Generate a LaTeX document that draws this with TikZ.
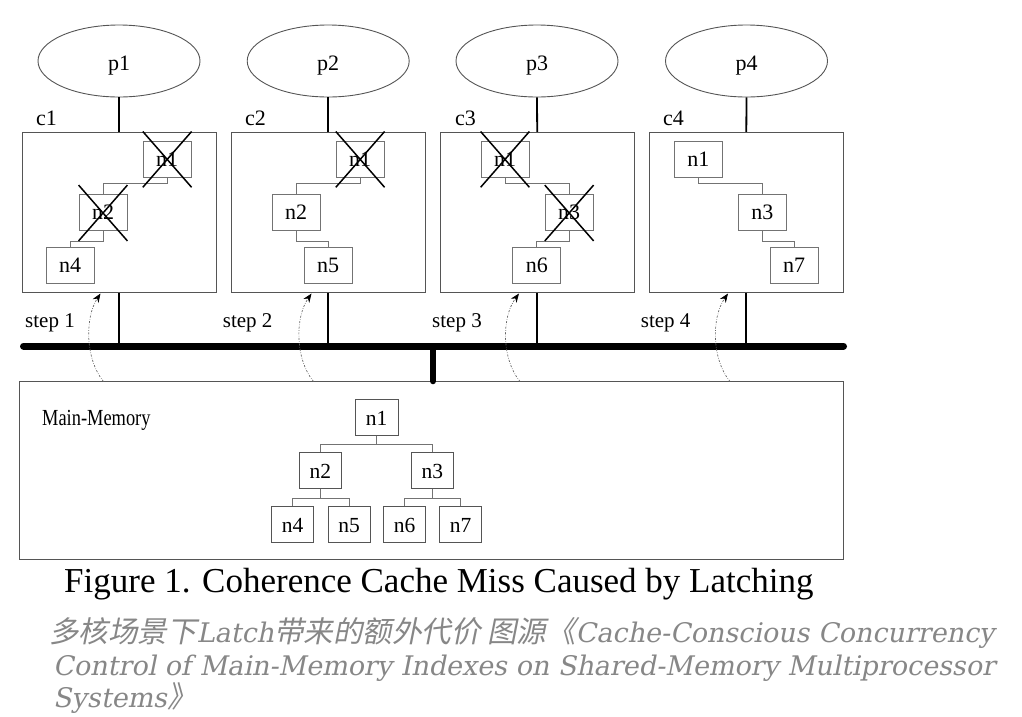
\documentclass[tikz,border=0pt]{standalone}
\usepackage{fontspec}
\setmainfont{Liberation Serif}
\newfontfamily\condfont[FakeStretch=0.8]{Liberation Serif}
\newfontfamily\cjkfont[FakeSlant=0.2]{Noto Sans CJK SC}
\newfontfamily\slfont[FakeSlant=0.2]{DejaVu Serif}
\usetikzlibrary{shapes.geometric,arrows.meta}
\definecolor{edgegray}{RGB}{85,85,85}
\definecolor{linegray}{RGB}{115,115,115}
\definecolor{textgray}{RGB}{135,135,135}
\begin{document}
\begin{tikzpicture}[x=1pt,y=-1pt,
  proc/.style={ellipse, draw=edgegray, line width=0.9pt, minimum width=162pt, minimum height=72pt, inner sep=0pt, text height=18pt, text depth=0pt, font=\fontsize{22}{24}\selectfont},
  cache/.style={rectangle, draw=edgegray, line width=0.9pt, minimum width=194pt, minimum height=160pt, inner sep=0pt},
  cnode/.style={rectangle, draw=linegray, line width=0.8pt, minimum width=48pt, minimum height=36pt, inner sep=0pt, font=\fontsize{22}{24}\selectfont},
  mnode/.style={rectangle, draw=edgegray, line width=0.8pt, minimum width=42.5pt, minimum height=36pt, inner sep=0pt, text height=17pt, text depth=0pt, font=\fontsize{21.5}{24}\selectfont},
  link/.style={draw=linegray, line width=0.8pt},
  crossx/.style={draw=black, line width=1.5pt},
  wire/.style={draw=black, line width=1.8pt},
  bus/.style={draw=black, line width=7pt, line cap=round},
  fetch/.style={draw=black!60, line width=0.7pt, dash pattern=on 2pt off 1.5pt on 0.6pt off 1.5pt, -{Stealth[length=9pt,width=7pt,black]}},
  lbl/.style={font=\fontsize{22}{24}\selectfont, inner sep=0pt, anchor=base west},
  steplbl/.style={font=\fontsize{21}{24}\selectfont, inner sep=0pt, anchor=base west},
]
\useasboundingbox (0,0) rectangle (1022,716);

% processors
\node[proc] (p1) at (119,61) {p1};
\node[proc] (p2) at (328.2,61) {p2};
\node[proc] (p3) at (537,61) {p3};
\node[proc] (p4) at (746.5,61) {p4};

% caches
\node[cache] (c1) at (119,212.3) {};
\node[cache] (c2) at (328.2,212.3) {};
\node[cache] (c3) at (537.2,212.3) {};
\node[cache] (c4) at (746.3,212.3) {};
\node[lbl] (lc1) at (36,125) {c1};
\node[lbl] (lc2) at (245,125) {c2};
\node[lbl] (lc3) at (455,125) {c3};
\node[lbl] (lc4) at (663,125) {c4};

\draw[wire] (p1.south) -- (c1.north);
\draw[wire] (p2.south) -- (c2.north);
\draw[wire] (p3.south) -- (c3.north);
\draw[wire] (p4.south) -- (c4.north);

% cache contents
\node[cnode] (a1) at (167.2,158.9) {n1};
\node[cnode] (a2) at (103,212.5) {n2};
\node[cnode] (a4) at (70,265.5) {n4};
\node[cnode] (b1) at (360.2,158.9) {n1};
\node[cnode] (b2) at (296,212.5) {n2};
\node[cnode] (b5) at (328,265.5) {n5};
\node[cnode] (d1) at (505,158.9) {n1};
\node[cnode] (d3) at (569.2,212.5) {n3};
\node[cnode] (d6) at (536.8,265.5) {n6};
\node[cnode] (e1) at (698.3,158.9) {n1};
\node[cnode] (e3) at (762.3,212.5) {n3};
\node[cnode] (e7) at (794.2,265.5) {n7};

\draw[link] (a1.south) -- ++(0,6.4) -| (a2.north);
\draw[link] (a2.south) -- ++(0,10.5) -| (a4.north);
\draw[link] (b1.south) -- ++(0,6.4) -| (b2.north);
\draw[link] (b2.south) -- ++(0,10.5) -| (b5.north);
\draw[link] (d1.south) -- ++(0,6.4) -| (d3.north);
\draw[link] (d3.south) -- ++(0,10.5) -| (d6.north);
\draw[link] (e1.south) -- ++(0,6.4) -| (e3.north);
\draw[link] (e3.south) -- ++(0,10.5) -| (e7.north);

\foreach \n in {a1,a2,b1,d1,d3}{
  \draw[crossx] ([yshift=9pt]\n.north west) -- ([yshift=-10pt]\n.south east);
  \draw[crossx] ([yshift=9pt]\n.north east) -- ([yshift=-10pt]\n.south west);
}

% bus
\coordinate (busL) at (23.5,346);
\coordinate (busR) at (843.5,346);
\coordinate (stub) at (433,346);
\draw[bus] (busL) -- (busR);
\draw[wire] (c1.south) -- (c1.south |- busL);
\draw[wire] (c2.south) -- (c2.south |- busL);
\draw[wire] (c3.south) -- (c3.south |- busL);
\draw[wire] (c4.south) -- (c4.south |- busL);

% main memory
\node[cache, minimum width=824pt, minimum height=177.6pt] (mm) at (431.3,470.5) {};
\draw[line width=6pt, line cap=round] (stub) -- (stub |- mm.north);
\node[inner sep=0pt, anchor=base west, font=\condfont\fontsize{23}{24}\selectfont] (mml) at (42,425) {Main-Memory};

\node[mnode] (m1) at (376.7,417.2) {n1};
\node[mnode] (m2) at (320.3,470.3) {n2};
\node[mnode] (m3) at (432.3,470.3) {n3};
\node[mnode] (m4) at (292.5,524) {n4};
\node[mnode] (m5) at (349.2,524) {n5};
\node[mnode] (m6) at (404.5,524) {n6};
\node[mnode] (m7) at (460.5,524) {n7};
\draw[link] (m1.south) -- ++(0,8.5) -| (m2.north);
\draw[link] (m1.south) -- ++(0,8.5) -| (m3.north);
\draw[link] (m2.south) -- ++(0,9.4) -| (m4.north);
\draw[link] (m2.south) -- ++(0,9.4) -| (m5.north);
\draw[link] (m3.south) -- ++(0,9.4) -| (m6.north);
\draw[link] (m3.south) -- ++(0,9.4) -| (m7.north);

% fetch arrows
\coordinate (f1s) at (103.5,381.5); \coordinate (f1e) at (100.5,293.5);
\coordinate (f2s) at (313.5,381.5); \coordinate (f2e) at (311.5,293.5);
\coordinate (f3s) at (520,381.5);   \coordinate (f3e) at (519,293.5);
\coordinate (f4s) at (730,381.5);   \coordinate (f4e) at (728,293.5);
\draw[fetch] (f1s) .. controls (85.5,360) and (84.5,318) .. (f1e);
\draw[fetch] (f2s) .. controls (295.5,360) and (294.5,318) .. (f2e);
\draw[fetch] (f3s) .. controls (502,360) and (501,318) .. (f3e);
\draw[fetch] (f4s) .. controls (712,360) and (711,318) .. (f4e);
\node[steplbl] (s1) at (25,327) {step 1};
\node[steplbl] (s2) at (222.7,327) {step 2};
\node[steplbl] (s3) at (432,327) {step 3};
\node[steplbl] (s4) at (640.7,327) {step 4};

% captions
\node[inner sep=0pt, anchor=base west, font=\fontsize{35}{38}\selectfont] (cap) at (64,592) {Figure 1. Coherence Cache Miss Caused by Latching};
\node[inner sep=0pt, anchor=base west, text=textgray, font=\fontsize{27}{28}\selectfont] (g1) at (49,642) {{\cjkfont\fontsize{29.5}{28}\selectfont 多核场景下}{\slfont Latch}{\cjkfont\fontsize{29.5}{28}\selectfont 带来的额外代价 图源《}{\slfont Cache-Conscious Concurrency}};
\node[inner sep=0pt, anchor=base west, text=textgray, font=\slfont\fontsize{27}{28}\selectfont] (g2) at (53,675) {Control of Main-Memory Indexes on Shared-Memory Multiprocessor};
\node[inner sep=0pt, anchor=base west, text=textgray, font=\fontsize{27}{28}\selectfont] (g3) at (53,707) {{\slfont Systems}{\cjkfont\fontsize{29.5}{28}\selectfont 》}};
\end{tikzpicture}
\end{document}
